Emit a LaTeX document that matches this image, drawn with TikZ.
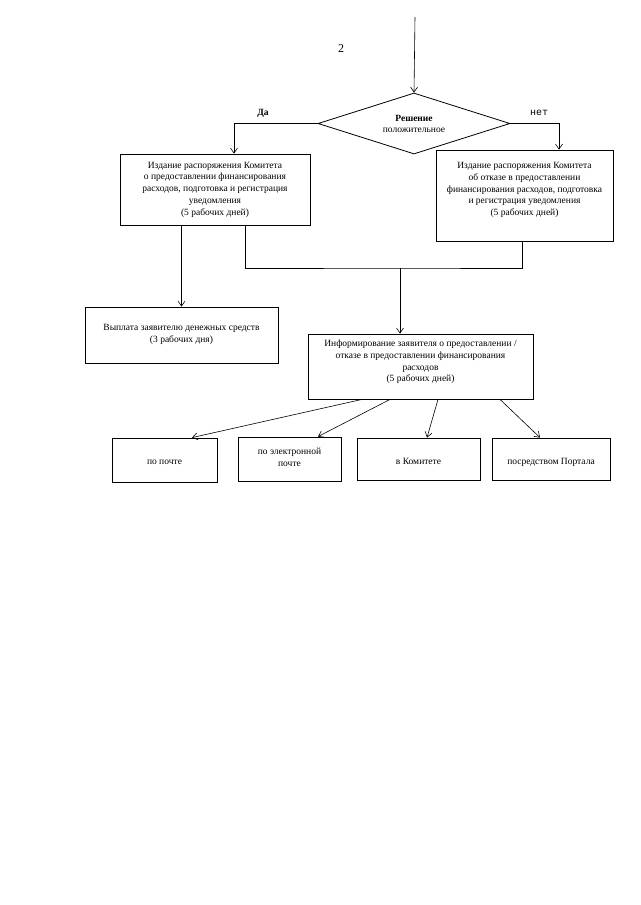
\documentclass[tikz,border=0pt]{standalone}
\usepackage{fontspec}
\setmainfont{Liberation Serif}
\newfontfamily\monofont{Liberation Mono}
\usetikzlibrary{arrows.meta,shapes.geometric}
\begin{document}
\begin{tikzpicture}[x=1pt,y=-1pt,
  box/.style={draw,line width=0.8pt,inner sep=0pt},
  txt/.style={align=center,font=\fontsize{9.5}{11.7}\selectfont,inner sep=0pt},
  arr/.style={line width=0.6pt,-{Straight Barb[length=5pt,width=7pt]}},
  ln/.style={line width=0.6pt}]
\useasboundingbox (0,0) rectangle (640,905);
\fill[white] (0,0) rectangle (640,905);

\node[font=\fontsize{12}{14}\selectfont] (pg) at (341,49) {2};

\coordinate (top) at (415,17);
\node[diamond,draw,line width=0.8pt,minimum width=192pt,minimum height=61pt,inner sep=0pt,aspect=3] (dec) at (414,123.5) {};
\node[align=center,font=\fontsize{9.5}{10.5}\selectfont,inner sep=0pt] (dect) at (414,124) {\textbf{Решение}\\положительное};

\node[box,minimum width=190pt,minimum height=71pt] (lb) at (215,189.5) {};
\node[txt] (lbt) at (215,189.5) {Издание распоряжения Комитета\\о предоставлении финансирования\\расходов, подготовка и регистрация\\уведомления\\(5 рабочих дней)};

\node[box,minimum width=177pt,minimum height=91pt] (rb) at (524.5,195.5) {};
\node[txt] (rbt) at (524.5,190) {Издание распоряжения Комитета\\об отказе в предоставлении\\финансирования расходов, подготовка\\и регистрация уведомления\\(5 рабочих дней)};

\node[box,minimum width=193pt,minimum height=56pt] (pay) at (181.5,335) {};
\node[txt] (payt) at (181.5,334.5) {Выплата заявителю денежных средств\\(3 рабочих дня)};

\node[box,minimum width=225pt,minimum height=65pt] (info) at (420.5,366.5) {};
\node[txt] (infot) at (420.5,362) {Информирование заявителя о предоставлении /\\отказе в предоставлении финансирования\\расходов\\(5 рабочих дней)};

\node[box,minimum width=105pt,minimum height=44pt] (b1) at (164.5,460) {};
\node[txt] (b1t) at (164.5,462) {по почте};
\node[box,minimum width=103pt,minimum height=44pt] (b2) at (289.5,459) {};
\node[txt] (b2t) at (289.5,457) {по электронной\\почте};
\node[box,minimum width=123pt,minimum height=42pt] (b3) at (418.5,459) {};
\node[txt] (b3t) at (418.5,461) {в Комитете};
\node[box,minimum width=118pt,minimum height=42pt] (b4) at (551,459) {};
\node[txt] (b4t) at (551,462) {посредством Портала};

\node[font=\bfseries\fontsize{9.5}{10}\selectfont,inner sep=0pt] (yes) at (263,113) {Да};
\node[font=\monofont\fontsize{10}{11}\selectfont,inner sep=0pt] (no) at (539,113) {нет};

\draw[arr] (top) -- (dec.north);
\draw[arr] (dec.west) -| ([xshift=19pt]lb.north);
\draw[arr] (dec.east) -| ([xshift=34.5pt]rb.north);
\draw[arr] (lb.south -| pay.north) -- (pay.north);

\coordinate (j) at (400,268);
\draw[ln] ([xshift=30pt]lb.south) |- (j) -| ([xshift=-2.5pt]rb.south);
\draw[arr] (j) -- (j |- info.north);

\draw[arr] ([xshift=-58.5pt]info.south) -- ([xshift=27.5pt]b1.north);
\draw[arr] ([xshift=-30.5pt]info.south) -- ([xshift=28.5pt]b2.north);
\draw[arr] ([xshift=17.5pt]info.south) -- ([xshift=8.5pt]b3.north);
\draw[arr] ([xshift=79.5pt]info.south) -- ([xshift=-11pt]b4.north);
\end{tikzpicture}
\end{document}
